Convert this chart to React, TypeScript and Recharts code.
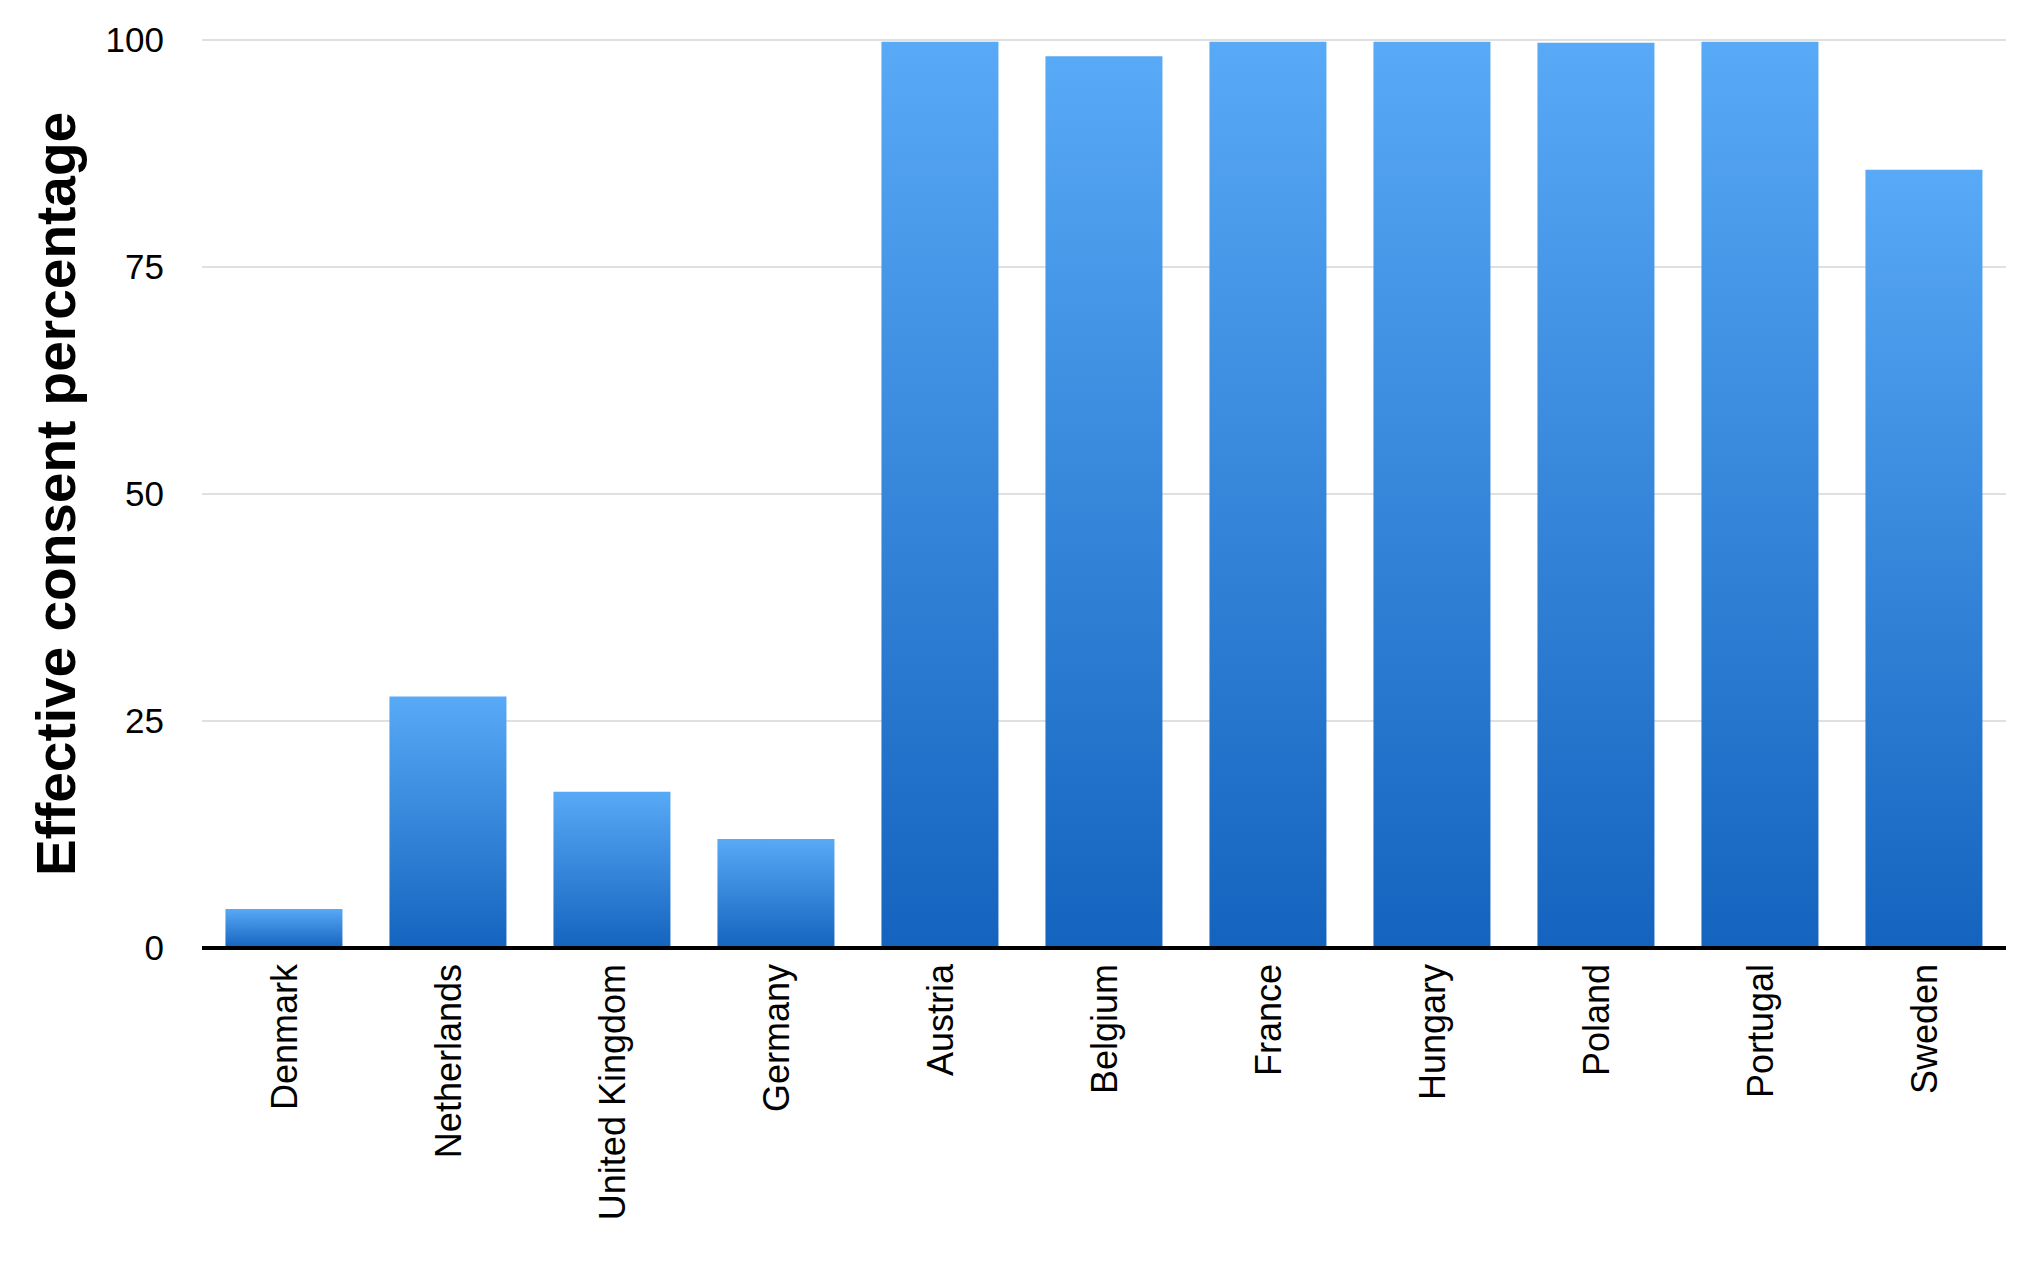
import React from "react";
import { BarChart, Bar, XAxis, YAxis, CartesianGrid } from "recharts";

const countries = [
  "Denmark",
  "Netherlands",
  "United Kingdom",
  "Germany",
  "Austria",
  "Belgium",
  "France",
  "Hungary",
  "Poland",
  "Portugal",
  "Sweden",
];
const consent = [4.3, 27.7, 17.2, 12.0, 99.8, 98.2, 99.8, 99.8, 99.7, 99.8, 85.7];
const yTicks = [0, 25, 50, 75, 100];
const yLabel = "Effective consent percentage";

const data = countries.map((c, i) => ({ country: c, value: consent[i] }));

const FONT = "'Liberation Sans', Arial, Helvetica, sans-serif";

const XTick = (props: any) => {
  const { x, y, payload } = props;
  const ty = y + 16;
  return (
    <text
      x={x}
      y={ty}
      dy="0.36em"
      transform={`rotate(-90, ${x}, ${ty})`}
      textAnchor="end"
      fontSize={36}
      fontFamily={FONT}
      fill="#000"
    >
      {payload.value}
    </text>
  );
};

const YLabel = (props: any) => {
  const vb = props.viewBox || { x: 0, y: 32, width: 194, height: 908 };
  const cx = 67;
  const cy = vb.y + vb.height / 2;
  return (
    <text
      x={cx}
      y={cy}
      transform={`rotate(-90, ${cx}, ${cy})`}
      textAnchor="middle"
      fontSize={55}
      fontWeight="bold"
      fontFamily={FONT}
      fill="#000"
    >
      {yLabel}
    </text>
  );
};

export default function App() {
  return (
    <div style={{ width: 2012, height: 1256, background: "#fff" }}>
      <BarChart
        width={2012}
        height={1256}
        data={data}
        margin={{ top: 32, right: 14, bottom: 0, left: 0 }}
        barCategoryGap="14.3%"
      >
        <defs>
          <linearGradient id="barGrad" x1="0" y1="0" x2="0" y2="1">
            <stop offset="0%" stopColor="#58a9f6" />
            <stop offset="100%" stopColor="#1464bf" />
          </linearGradient>
        </defs>
        <CartesianGrid horizontal vertical={false} stroke="#d6d6d6" strokeWidth={1.5} />
        <XAxis
          dataKey="country"
          interval={0}
          height={316}
          tickLine={false}
          tickSize={0}
          tickMargin={0}
          axisLine={{ stroke: "#000", strokeWidth: 4 }}
          tick={<XTick />}
        />
        <YAxis
          domain={[0, 100]}
          ticks={yTicks}
          width={194}
          axisLine={false}
          tickLine={false}
          tickSize={0}
          tickMargin={38}
          tick={{ fontSize: 35, fill: "#000", fontFamily: FONT }}
          label={<YLabel />}
        />
        <Bar dataKey="value" fill="url(#barGrad)" isAnimationActive={false} />
      </BarChart>
    </div>
  );
}
